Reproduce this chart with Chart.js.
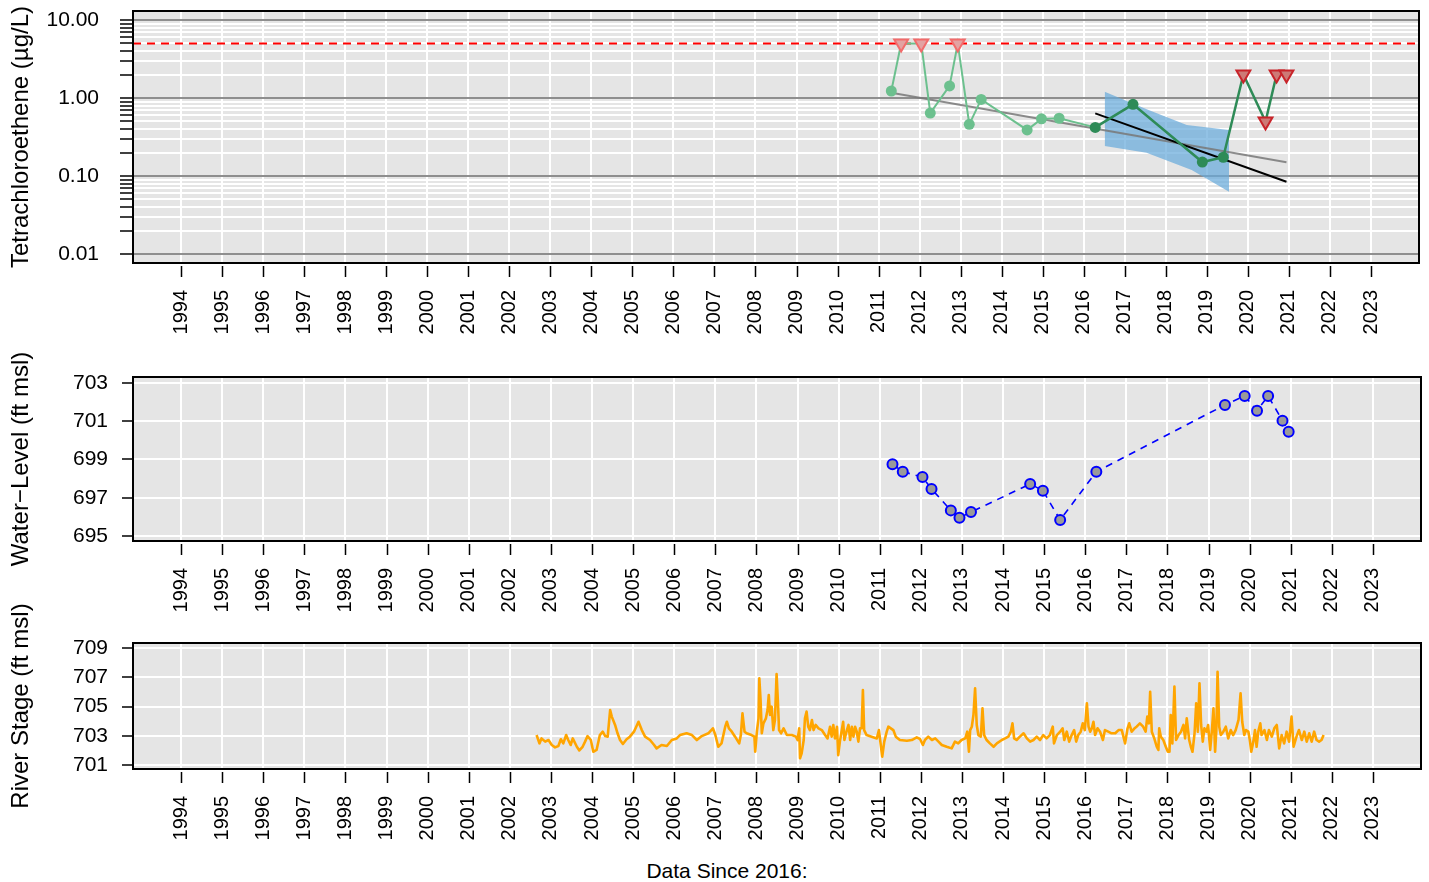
<!DOCTYPE html>
<html>
<head>
<meta charset="utf-8">
<script src="https://cdn.jsdelivr.net/npm/chart.js@4.4.1/dist/chart.umd.min.js"></script>
<style>
  body { margin: 0; background: #fff; width: 1429px; height: 882px; overflow: hidden; position: relative;
         font-family: "Liberation Sans", Arial, Helvetica, sans-serif; }
  .panel { position: absolute; left: 0; width: 1429px; }
  #p1 { top: 0; height: 345px; }
  #p2 { top: 335px; height: 285px; }
  #p3 { top: 585px; height: 265px; }
  #foot { position: absolute; left: 0; width: 1454px; top: 859px; text-align: center; font-size: 21px; color: #000; }
</style>
</head>
<body>
<div class="panel" id="p1"><canvas id="pce-chart"></canvas></div>
<div class="panel" id="p2"><canvas id="wl-chart"></canvas></div>
<div class="panel" id="p3"><canvas id="stage-chart"></canvas></div>
<div id="foot">Data Since 2016:</div>
<script>
// ─── Data ────────────────────────────────────────────────────────────────────

const yearTicks = [1994, 1995, 1996, 1997, 1998, 1999, 2000, 2001, 2002, 2003,
  2004, 2005, 2006, 2007, 2008, 2009, 2010, 2011, 2012, 2013,
  2014, 2015, 2016, 2017, 2018, 2019, 2020, 2021, 2022, 2023];

const pceTicks = [0.01, 0.02, 0.03, 0.04, 0.05, 0.06, 0.07, 0.08, 0.09,
  0.1, 0.2, 0.3, 0.4, 0.5, 0.6, 0.7, 0.8, 0.9,
  1, 2, 3, 4, 5, 6, 7, 8, 9, 10];
const wlTicks = [695, 697, 699, 701, 703];
const stageTicks = [701, 703, 705, 707, 709];

// sample dates (decimal years), concentrations and non-detect flags
const pceDates = [2011.31, 2011.55, 2012.04, 2012.26, 2012.73, 2012.93, 2013.21, 2013.50,
  2014.62, 2014.97, 2015.40, 2016.28, 2017.20, 2018.89, 2019.40, 2019.89, 2020.43, 2020.70, 2020.94];
const pceValues = [1.23, 5, 5, 0.64, 1.43, 5, 0.46, 0.96,
  0.39, 0.54, 0.55, 0.42, 0.83, 0.151, 0.174, 2, 0.5, 2, 2];
const pceNonDetect = [0, 1, 1, 0, 0, 1, 0, 0, 0, 0, 0, 0, 0, 0, 0, 1, 1, 1, 1];
const recentSince = 2016;
const pceLimit = 5;

// trend lines and confidence band
const trendAllDates = [2011.31, 2020.94];
const trendAllValues = [1.17, 0.15];
const trendRecentDates = [2016.28, 2020.94];
const trendRecentValues = [0.636, 0.0845];
const bandUpperDates = [2016.51, 2017.58, 2018.51, 2019.54];
const bandUpperValues = [1.2, 0.7, 0.45, 0.39];
const bandLowerDates = [2016.51, 2017.53, 2018.63, 2019.54];
const bandLowerValues = [0.243, 0.199, 0.119, 0.063];

// groundwater level
const wlDates = [2011.31, 2011.56, 2012.04, 2012.26, 2012.73, 2012.94, 2013.22, 2014.66, 2014.97,
  2015.39, 2016.27, 2019.40, 2019.88, 2020.18, 2020.45, 2020.80, 2020.95];
const wlValues = [698.75, 698.36, 698.08, 697.46, 696.34, 695.96, 696.25, 697.72, 697.37,
  695.84, 698.36, 701.85, 702.32, 701.55, 702.32, 701.03, 700.45];

// river stage
const stageDates = [
  2002.65, 2002.72, 2002.77, 2002.86, 2002.94, 2003.02, 2003.10, 2003.18, 2003.24, 2003.30,
  2003.37, 2003.42, 2003.48, 2003.53, 2003.63, 2003.69, 2003.77, 2003.83, 2003.89, 2003.97,
  2004.03, 2004.11, 2004.19, 2004.26, 2004.32, 2004.38, 2004.44, 2004.48, 2004.56, 2004.62,
  2004.68, 2004.75, 2004.84, 2004.92, 2005.02, 2005.13, 2005.21, 2005.29, 2005.41, 2005.51,
  2005.57, 2005.69, 2005.82, 2005.94, 2006.06, 2006.14, 2006.30, 2006.43, 2006.55, 2006.67,
  2006.83, 2006.94, 2007.00, 2007.07, 2007.15, 2007.24, 2007.28, 2007.33, 2007.40, 2007.48,
  2007.58, 2007.62, 2007.66, 2007.71, 2007.76, 2007.88, 2007.95, 2007.97, 2008.01, 2008.05,
  2008.07, 2008.10, 2008.13, 2008.17, 2008.23, 2008.27, 2008.30, 2008.33, 2008.37, 2008.41,
  2008.45, 2008.49, 2008.52, 2008.55, 2008.60, 2008.66, 2008.74, 2008.86, 2008.96, 2009.00,
  2009.04, 2009.06, 2009.10, 2009.15, 2009.18, 2009.22, 2009.26, 2009.30, 2009.35, 2009.39,
  2009.44, 2009.51, 2009.59, 2009.67, 2009.73, 2009.79, 2009.83, 2009.87, 2009.91, 2009.96,
  2009.99, 2010.03, 2010.07, 2010.11, 2010.14, 2010.20, 2010.24, 2010.28, 2010.32, 2010.36,
  2010.40, 2010.44, 2010.48, 2010.52, 2010.56, 2010.59, 2010.62, 2010.68, 2010.80, 2010.93,
  2010.98, 2011.02, 2011.06, 2011.11, 2011.17, 2011.21, 2011.27, 2011.33, 2011.39, 2011.49,
  2011.66, 2011.78, 2011.90, 2011.98, 2012.05, 2012.10, 2012.18, 2012.27, 2012.35, 2012.43,
  2012.51, 2012.63, 2012.75, 2012.83, 2012.91, 2012.99, 2013.08, 2013.13, 2013.17, 2013.20,
  2013.24, 2013.28, 2013.32, 2013.36, 2013.40, 2013.46, 2013.50, 2013.54, 2013.60, 2013.68,
  2013.77, 2013.85, 2013.97, 2014.05, 2014.13, 2014.19, 2014.23, 2014.27, 2014.33, 2014.41,
  2014.50, 2014.58, 2014.66, 2014.74, 2014.82, 2014.90, 2014.98, 2015.06, 2015.14, 2015.21,
  2015.24, 2015.31, 2015.39, 2015.45, 2015.49, 2015.55, 2015.61, 2015.67, 2015.73, 2015.78,
  2015.83, 2015.89, 2015.94, 2015.99, 2016.04, 2016.08, 2016.12, 2016.16, 2016.20, 2016.24,
  2016.30, 2016.36, 2016.43, 2016.48, 2016.56, 2016.64, 2016.73, 2016.81, 2016.89, 2016.97,
  2017.03, 2017.07, 2017.13, 2017.20, 2017.25, 2017.33, 2017.41, 2017.47, 2017.51, 2017.55,
  2017.58, 2017.62, 2017.68, 2017.74, 2017.78, 2017.80, 2017.84, 2017.90, 2017.96, 2018.01,
  2018.05, 2018.08, 2018.12, 2018.17, 2018.21, 2018.27, 2018.33, 2018.39, 2018.43, 2018.47,
  2018.53, 2018.57, 2018.61, 2018.66, 2018.70, 2018.74, 2018.78, 2018.82, 2018.86, 2018.90,
  2018.95, 2018.99, 2019.04, 2019.08, 2019.12, 2019.16, 2019.19, 2019.22, 2019.26, 2019.30,
  2019.36, 2019.42, 2019.48, 2019.54, 2019.60, 2019.66, 2019.73, 2019.78, 2019.82, 2019.87,
  2019.91, 2019.97, 2020.01, 2020.04, 2020.09, 2020.13, 2020.17, 2020.21, 2020.26, 2020.29,
  2020.36, 2020.42, 2020.47, 2020.54, 2020.60, 2020.66, 2020.72, 2020.78, 2020.84, 2020.90,
  2020.96, 2021.02, 2021.07, 2021.14, 2021.20, 2021.27, 2021.33, 2021.39, 2021.45, 2021.51,
  2021.57, 2021.63, 2021.69, 2021.75, 2021.80];
const stageValues = [
  703.05, 702.48, 702.82, 702.60, 702.71, 702.37, 702.21, 702.30, 702.76, 702.48,
  703.05, 702.71, 702.37, 702.82, 702.25, 702.00, 702.25, 702.60, 702.98, 702.71,
  701.91, 702.03, 703.05, 703.28, 702.98, 702.94, 704.76, 704.31, 703.74, 703.17,
  702.71, 702.44, 702.76, 702.94, 703.28, 703.96, 703.39, 702.94, 702.71, 702.37,
  702.14, 702.37, 702.30, 702.71, 702.82, 703.05, 703.17, 703.05, 702.71, 702.98,
  703.17, 703.51, 703.05, 702.25, 702.48, 703.62, 703.96, 703.51, 703.28, 702.94,
  702.48, 703.05, 704.53, 703.28, 703.17, 703.05, 702.94, 701.91, 703.28, 704.19,
  706.93, 705.45, 703.17, 703.85, 704.19, 704.76, 705.79, 704.42, 704.99, 703.39,
  704.08, 707.22, 705.45, 703.39, 703.17, 703.51, 703.05, 703.05, 702.94, 702.71,
  703.51, 701.46, 701.80, 702.71, 704.19, 704.65, 703.62, 703.39, 704.08, 703.39,
  703.74, 703.51, 703.39, 703.05, 702.82, 703.62, 702.94, 703.74, 702.82, 703.62,
  701.68, 702.60, 703.28, 703.96, 702.71, 703.39, 703.74, 702.71, 703.62, 702.94,
  703.62, 703.28, 702.60, 703.51, 703.51, 706.13, 703.39, 703.05, 702.94, 702.82,
  703.39, 702.48, 701.57, 702.60, 703.28, 703.62, 703.51, 703.39, 702.94, 702.71,
  702.66, 702.71, 702.89, 702.78, 702.37, 702.71, 702.94, 702.71, 702.82, 702.60,
  702.37, 702.25, 702.14, 702.60, 702.48, 702.71, 702.82, 703.28, 701.91, 703.39,
  703.62, 704.42, 706.24, 703.74, 703.05, 702.94, 704.87, 703.05, 702.71, 702.48,
  702.25, 702.48, 702.71, 702.82, 702.94, 703.28, 703.85, 702.82, 702.71, 702.94,
  703.17, 702.82, 702.60, 702.71, 702.94, 702.71, 703.05, 702.82, 703.05, 703.62,
  702.48, 703.05, 703.28, 703.51, 702.71, 703.28, 702.60, 703.05, 703.39, 702.60,
  703.05, 703.28, 703.85, 703.39, 705.22, 703.62, 703.28, 703.51, 703.96, 703.05,
  703.51, 703.28, 702.71, 703.39, 703.28, 703.17, 703.17, 703.39, 703.39, 702.48,
  703.51, 703.85, 703.28, 703.51, 703.62, 703.85, 703.62, 703.28, 704.31, 703.85,
  706.01, 703.28, 702.82, 702.25, 702.03, 703.51, 702.94, 702.71, 702.25, 701.91,
  701.91, 704.42, 702.48, 706.36, 702.71, 703.05, 703.28, 703.74, 702.82, 704.19,
  702.71, 702.25, 701.91, 703.17, 705.22, 703.28, 706.58, 703.74, 702.60, 703.51,
  703.28, 703.74, 702.03, 703.28, 704.87, 701.91, 703.39, 707.38, 703.62, 703.05,
  703.28, 703.62, 702.82, 703.39, 703.05, 703.39, 704.08, 705.90, 703.96, 703.05,
  703.39, 703.28, 702.60, 701.91, 702.60, 703.39, 702.25, 703.28, 703.85, 703.05,
  703.39, 702.71, 703.39, 702.94, 703.51, 703.74, 702.14, 703.05, 702.48, 703.28,
  702.60, 704.31, 702.25, 702.94, 703.39, 702.71, 703.28, 702.60, 703.17, 702.60,
  703.28, 702.71, 702.60, 702.71, 703.05];

// ─── Layout / style constants ────────────────────────────────────────────────

const X_MIN = 1992.83;
const X_MAX = 2024.17;
const PANEL_BG = "#e5e5e5";
const AXIS_W = 133;

Chart.defaults.font.family = '"Liberation Sans", Arial, Helvetica, sans-serif';
Chart.defaults.color = "#000";
Chart.defaults.animation = false;

// ─── Helpers ─────────────────────────────────────────────────────────────────

const pts = (xs, ys) => xs.map((x, i) => ({ x, y: ys[i] }));

function isDecade(v) {
  if (!v) return false;
  const l = Math.log10(v);
  return Math.abs(l - Math.round(l)) < 1e-6;
}

// y axes: fixed width, and no extra label padding pushed into the layout
function fitY(s) {
  s.width = AXIS_W;
  s.paddingTop = 0;
  s.paddingBottom = 0;
}

// grey plot background, black frame, and x tick marks set a bit below the frame
const framePlugin = {
  id: "panelFrame",
  beforeDraw(chart) {
    const { ctx, chartArea: a } = chart;
    ctx.save();
    ctx.fillStyle = PANEL_BG;
    ctx.fillRect(a.left, a.top, a.right - a.left, a.bottom - a.top);
    ctx.restore();
  },
  afterDraw(chart) {
    const { ctx, chartArea: a } = chart;
    const xs = chart.scales.x;
    ctx.save();
    ctx.strokeStyle = "#000";
    ctx.lineWidth = 2;
    ctx.strokeRect(a.left, a.top, a.right - a.left, a.bottom - a.top);
    ctx.lineWidth = 1.5;
    ctx.beginPath();
    yearTicks.forEach((yr) => {
      const px = Math.round(xs.getPixelForValue(yr)) + 0.5;
      ctx.moveTo(px, a.bottom + 3);
      ctx.lineTo(px, a.bottom + 14);
    });
    ctx.stroke();
    ctx.restore();
  },
};

function xAxis(height) {
  return {
    type: "linear",
    min: X_MIN,
    max: X_MAX,
    afterBuildTicks: (s) => { s.ticks = yearTicks.map((v) => ({ value: v })); },
    afterFit: (s) => { s.height = height; },
    grid: { color: "#ffffff", lineWidth: 2, drawTicks: false },
    border: { display: false },
    ticks: {
      autoSkip: false,
      minRotation: 90,
      maxRotation: 90,
      padding: 27,
      font: { size: 20, lineHeight: 1 },
      callback: (v) => String(v),
    },
  };
}

const yTitle = (text) => ({ display: true, text, font: { size: 24 }, padding: { top: 7, bottom: 0 } });

function linearY(min, max, tickList, title) {
  return {
    type: "linear",
    min,
    max,
    afterBuildTicks: (s) => { s.ticks = tickList.map((v) => ({ value: v })); },
    afterFit: fitY,
    grid: { color: "#ffffff", lineWidth: 2, tickColor: "#000", tickLength: 11, tickWidth: 1.5 },
    border: { display: false },
    ticks: { autoSkip: false, padding: 14, font: { size: 21, lineHeight: 1 }, callback: (v) => String(v) },
    title: yTitle(title),
  };
}

const baseOptions = (padTop, scales) => ({
  responsive: true,
  maintainAspectRatio: false,
  animation: false,
  layout: { padding: { top: padTop, right: 8, bottom: 0, left: 0 } },
  plugins: { legend: { display: false }, tooltip: { enabled: false } },
  scales,
});

// ─── Panel 1: concentration ──────────────────────────────────────────────────

function renderPce() {
  const all = pts(pceDates, pceValues);
  const firstRecent = pceDates.findIndex((d) => d >= recentSince);
  const oldLine = all.slice(0, firstRecent + 1);
  const newLine = all.slice(firstRecent);
  const pick = (recent, nd) =>
    all.filter((p, i) => (pceDates[i] >= recentSince) === recent && !!pceNonDetect[i] === nd);

  new Chart(document.getElementById("pce-chart"), {
    type: "scatter",
    data: {
      datasets: [
        {
          data: pts(bandUpperDates, bandUpperValues),
          showLine: true, borderColor: "rgba(0,0,0,0)", borderWidth: 0, pointRadius: 0, order: 20,
        },
        {
          data: pts(bandLowerDates, bandLowerValues),
          showLine: true, borderColor: "rgba(0,0,0,0)", borderWidth: 0, pointRadius: 0, order: 20,
          fill: "-1", backgroundColor: "rgba(104,170,219,0.72)",
        },
        {
          data: [{ x: X_MIN, y: pceLimit }, { x: X_MAX, y: pceLimit }],
          showLine: true, borderColor: "#ff0000", borderWidth: 2, borderDash: [8, 6], pointRadius: 0, order: 15,
        },
        {
          data: pts(trendAllDates, trendAllValues),
          showLine: true, borderColor: "rgba(120,120,120,0.85)", borderWidth: 2, pointRadius: 0, order: 12,
        },
        {
          data: pts(trendRecentDates, trendRecentValues),
          showLine: true, borderColor: "#000000", borderWidth: 2, pointRadius: 0, order: 11,
        },
        {
          data: oldLine,
          showLine: true, borderColor: "#6cc08e", borderWidth: 2, pointRadius: 0, order: 8,
        },
        {
          data: newLine,
          showLine: true, borderColor: "#2e8b57", borderWidth: 2.5, pointRadius: 0, order: 7,
        },
        {
          data: pick(false, false),
          pointRadius: 5.5, pointBackgroundColor: "#6cc08e", pointBorderWidth: 0, order: 4,
        },
        {
          data: pick(false, true),
          pointStyle: "triangle", rotation: 180, pointRadius: 8,
          pointBackgroundColor: "#e3a2a2", pointBorderColor: "#f26b6b", pointBorderWidth: 2, order: 3,
        },
        {
          data: pick(true, false),
          pointRadius: 5.5, pointBackgroundColor: "#2e8b57", pointBorderWidth: 0, order: 2,
        },
        {
          data: pick(true, true),
          pointStyle: "triangle", rotation: 180, pointRadius: 8,
          pointBackgroundColor: "#cd7a76", pointBorderColor: "#c8242a", pointBorderWidth: 2, order: 1,
        },
      ],
    },
    options: baseOptions(11, {
      x: xAxis(82),
      y: {
        type: "logarithmic",
        min: 0.00767,
        max: 13.04,
        afterBuildTicks: (s) => { s.ticks = pceTicks.map((v) => ({ value: v })); },
        afterFit: fitY,
        grid: {
          color: (c) => (c.tick && isDecade(c.tick.value) ? "#8e8e8e" : "#ffffff"),
          lineWidth: 2,
          tickColor: "#000",
          tickLength: 13,
          tickWidth: 1.5,
        },
        border: { display: false },
        ticks: {
          autoSkip: false,
          padding: 21,
          font: { size: 21, lineHeight: 1 },
          callback: (v) => (isDecade(v) ? Number(v).toFixed(2) : ""),
        },
        title: yTitle("Tetrachloroethene (µg/L)"),
      },
    }),
    plugins: [framePlugin],
  });
}

// ─── Panel 2: water level ────────────────────────────────────────────────────

function renderWaterLevel() {
  new Chart(document.getElementById("wl-chart"), {
    type: "scatter",
    data: {
      datasets: [
        {
          data: pts(wlDates, wlValues),
          showLine: true,
          borderColor: "#0000ff",
          borderWidth: 1.6,
          borderDash: [7, 6],
          pointRadius: 5,
          pointBackgroundColor: "#9a9a9a",
          pointBorderColor: "#0000ff",
          pointBorderWidth: 2,
        },
      ],
    },
    options: baseOptions(42, {
      x: xAxis(79),
      y: linearY(694.74, 703.31, wlTicks, "Water\u2212Level (ft msl)"),
    }),
    plugins: [framePlugin],
  });
}

// ─── Panel 3: river stage ────────────────────────────────────────────────────

function renderStage() {
  new Chart(document.getElementById("stage-chart"), {
    type: "scatter",
    data: {
      datasets: [
        {
          data: pts(stageDates, stageValues),
          showLine: true,
          borderColor: "#ffa500",
          borderWidth: 2.6,
          borderJoinStyle: "round",
          pointRadius: 0,
        },
      ],
    },
    options: baseOptions(58, {
      x: xAxis(81),
      y: linearY(700.73, 709.34, stageTicks, "River Stage (ft msl)"),
    }),
    plugins: [framePlugin],
  });
}

renderPce();
renderWaterLevel();
renderStage();
</script>
</body>
</html>
